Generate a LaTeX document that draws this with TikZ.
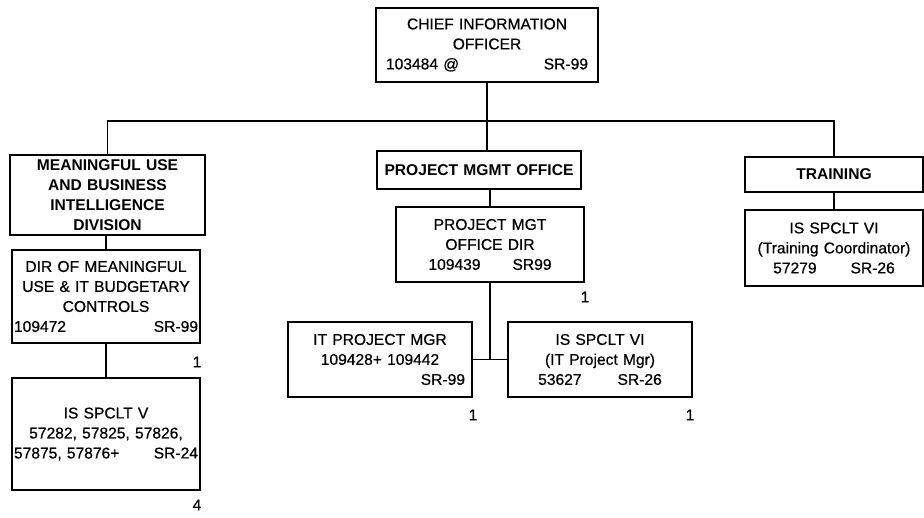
\documentclass[tikz,border=0pt]{standalone}
\usepackage{fontspec}
\setmainfont{Liberation Sans}
\newfontfamily\scanfont[FakeBold=0.6]{Liberation Sans}
\usetikzlibrary{positioning}
\tikzset{
  orgbox/.style={draw, line width=0.6pt, align=center, inner xsep=2.5pt, inner ysep=0pt, font=\fontsize{7.8}{10}\scanfont},
  headbox/.style={orgbox, font=\fontsize{7.8}{10}\selectfont\bfseries},
  count/.style={inner sep=0pt, font=\fontsize{7.8}{10}\scanfont},
  link/.style={line width=0.6pt}
}
\newcommand\lrline[2]{\hbox to\hsize{#1\hfill#2}}
\begin{document}
\begin{tikzpicture}[x=0.5pt,y=-0.5pt]
\useasboundingbox (0,0) rectangle (924,518);
% Chief information officer
\node[orgbox, text width=101pt, inner xsep=5pt, minimum height=37pt] (cio) at (487,45) {CHIEF INFORMATION\\OFFICER\\\lrline{103484 @}{SR-99}};
% Divisions
\node[headbox, text width=92.5pt, minimum height=40pt] (mu) at (107.5,195) {MEANINGFUL USE\\AND BUSINESS\\INTELLIGENCE\\DIVISION};
\node[headbox, text width=97pt, minimum height=19pt] (pmo) at (479,170) {PROJECT MGMT OFFICE};
\node[headbox, text width=84pt, minimum height=17.5pt] (trn) at (834,174.5) {TRAINING};
% Meaningful use
\node[orgbox, text width=92pt, inner xsep=1pt, minimum height=46.5pt] (dir) at (106,296.5) {DIR OF MEANINGFUL\\USE \& IT BUDGETARY\\CONTROLS\\\lrline{109472}{SR-99}};
\node[orgbox, text width=92pt, inner xsep=1pt, minimum height=56pt] (spv) at (106,434) {IS SPCLT V\\57282, 57825, 57826,\\\lrline{57875, 57876+}{SR-24}};
% Project office
\node[orgbox, text width=89pt, minimum height=37.5pt] (pmd) at (490,244.5) {PROJECT MGT\\OFFICE DIR\\109439\hspace{16pt}SR99};
\node[orgbox, text width=85pt, inner xsep=3.5pt, minimum height=37.5pt] (itpm) at (380,359.5) {IT PROJECT MGR\\109428+ 109442\\\lrline{}{SR-99}};
\node[orgbox, text width=87pt, minimum height=37.5pt] (spit) at (600,359.5) {IS SPCLT VI\\(IT Project Mgr)\\53627\hspace{18pt}SR-26};
% Training
\node[orgbox, text width=84pt, minimum height=38pt] (trvi) at (834,248) {IS SPCLT VI\\(Training Coordinator)\\57279\hspace{17pt}SR-26};
% Counts
\node[count] (c_dir) at (197,362) {1};
\node[count] (c_spv) at (197,505) {4};
\node[count] (c_pmd) at (585,297) {1};
\node[count] (c_itpm) at (473,415) {1};
\node[count] (c_spit) at (690,415) {1};
% Lines
\coordinate (bus) at (488,121);
\draw[link] (cio.south) -- (cio.south |- pmo.north);
\draw[link] (mu.north) -- (mu.north |- bus) -- (trn.north |- bus) -- (trn.north);
\draw[link] (mu.south -| dir.north) -- (dir.north);
\draw[link] (dir.south) -- (spv.north);
\draw[link] (pmo.south -| pmd.north) -- (pmd.north);
\draw[link] (pmd.south) -- (pmd.south |- itpm.east);
\draw[link] (itpm.east) -- (spit.west);
\draw[link] (trn.south) -- (trvi.north);
\end{tikzpicture}
\end{document}
